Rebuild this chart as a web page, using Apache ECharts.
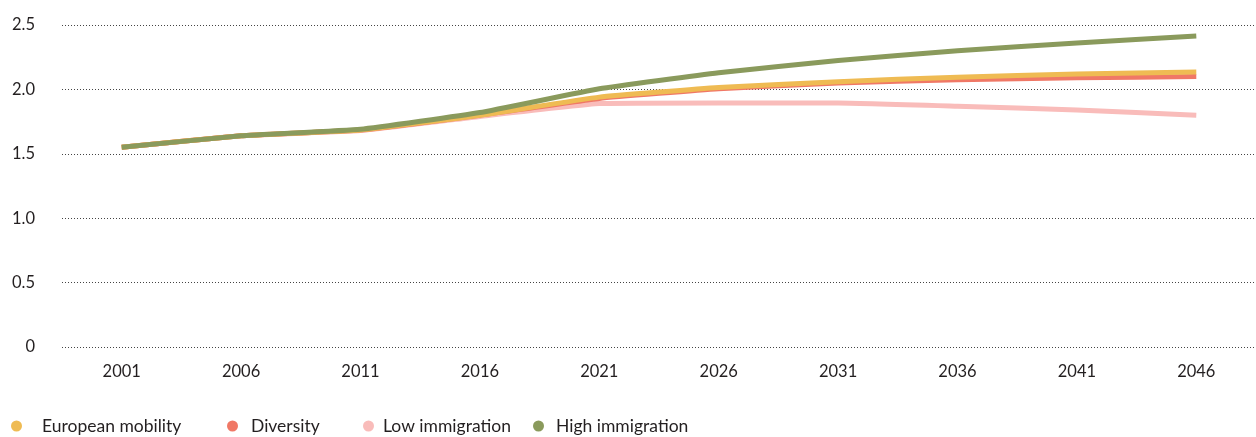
<!DOCTYPE html>
<html>
<head>
<meta charset="utf-8">
<script src="https://cdn.jsdelivr.net/npm/echarts@6/dist/echarts.min.js"></script>
<style>
  html, body { margin: 0; padding: 0; background: #fff; }
  #chart { width: 1256px; height: 437px; }
</style>
</head>
<body>
<div id="chart"></div>
<script>
var years = ['2001', '2006', '2011', '2016', '2021', '2026', '2031', '2036', '2041', '2046'];
var yTicks = [0, 0.5, 1.0, 1.5, 2.0, 2.5];

var europeanMobility = [1.55, 1.64, 1.685, 1.80, 1.94, 2.015, 2.06, 2.095, 2.12, 2.135];
var diversity        = [1.55, 1.64, 1.685, 1.80, 1.93, 2.005, 2.05, 2.075, 2.09, 2.10];
var lowImmigration   = [1.55, 1.64, 1.68, 1.79, 1.89, 1.895, 1.895, 1.87, 1.84, 1.80];
var highImmigration  = [1.55, 1.64, 1.69, 1.82, 2.005, 2.13, 2.225, 2.30, 2.36, 2.415];

var chart = echarts.init(document.getElementById('chart'));

var font = 'Lato';
var textColor = '#231f20';

function legendItem(name, left, padLeft) {
    return {
        data: [name],
        left: left,
        top: 412,
        icon: 'circle',
        itemWidth: 11,
        itemHeight: 11,
        selectedMode: false,
        textStyle: {
            fontFamily: font,
            fontSize: 17.5,
            color: textColor,
            padding: [0, 0, 0, padLeft]
        }
    };
}

function line(name, data, color, z) {
    return {
        name: name,
        type: 'line',
        data: data,
        z: z,
        smooth: 0.12,
        symbol: 'none',
        lineStyle: { color: color, width: 5 },
        itemStyle: { color: color }
    };
}

option = {
    animation: false,
    grid: {
        left: 62,
        right: -3,
        top: 25,
        bottom: 90,
        containLabel: false
    },
    legend: [
        legendItem('European mobility', 6, 15),
        legendItem('Diversity', 222, 8),
        legendItem('Low immigration', 358, 4),
        legendItem('High immigration', 528, 7)
    ],
    xAxis: {
        type: 'category',
        data: years,
        boundaryGap: true,
        axisLine: { show: false },
        axisTick: { show: false },
        axisLabel: {
            margin: 16,
            fontFamily: font,
            fontSize: 16.5,
            color: textColor
        }
    },
    yAxis: {
        type: 'value',
        min: 0,
        max: 2.5,
        interval: 0.5,
        axisLine: { show: false },
        axisTick: { show: false },
        axisLabel: {
            margin: 27,
            fontFamily: font,
            fontSize: 16.5,
            color: textColor,
            formatter: function (v) {
                return v === 0 ? '0' : v.toFixed(1);
            }
        },
        splitLine: {
            show: true,
            lineStyle: { color: '#444', width: 1, type: [1, 2] }
        }
    },
    series: [
        line('European mobility', europeanMobility, '#efbb53', 4),
        line('Diversity', diversity, '#f07866', 3),
        line('Low immigration', lowImmigration, '#f9bcba', 2),
        line('High immigration', highImmigration, '#8a9a5c', 5)
    ]
};
chart.setOption(option);
</script>
</body>
</html>
